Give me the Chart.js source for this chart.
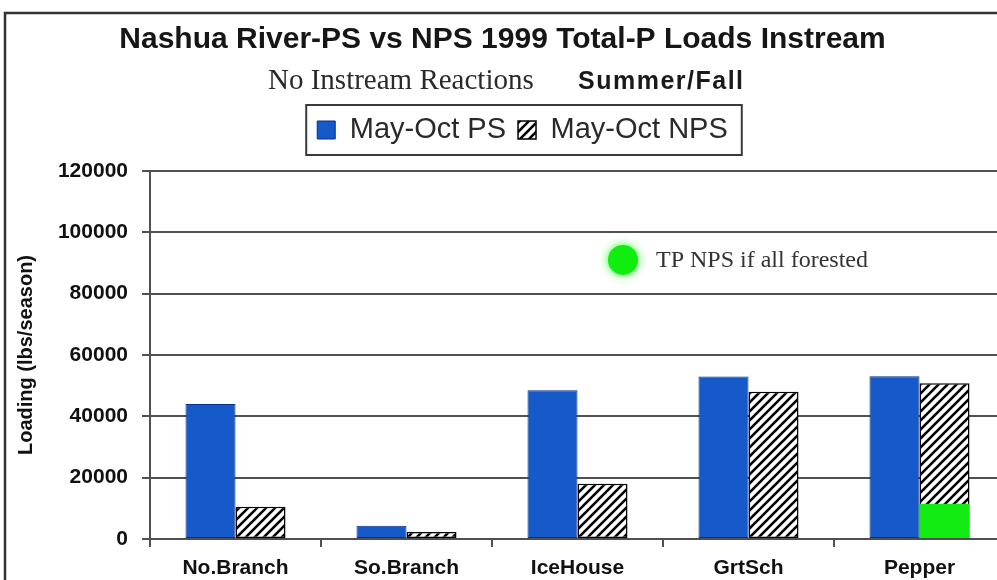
<!DOCTYPE html>
<html>
<head>
<meta charset="utf-8">
<script src="https://cdn.jsdelivr.net/npm/chart.js@4.4.1/dist/chart.umd.min.js"></script>
<style>
  html, body { margin: 0; padding: 0; background: #fff; overflow: hidden; width: 997px; height: 580px; }
  #wrap { position: relative; width: 1012px; height: 580px; }
</style>
</head>
<body>
<div id="wrap"><canvas id="c"></canvas></div>
<script>
// ---------- data ----------
const categories = ['No.Branch', 'So.Branch', 'IceHouse', 'GrtSch', 'Pepper'];
const psLoads = [44000, 4300, 48500, 53000, 53100];
const npsLoads = [10500, 2300, 18000, 48000, 50800];
const forestedNps = [null, null, null, null, 11500];
const seriesLabels = ['May-Oct PS', 'May-Oct NPS', 'TP NPS if all forested'];
const yMin = 0, yMax = 120000, yStep = 20000;
const titleText = 'Nashua River-PS vs NPS 1999 Total-P Loads Instream';
const subtitleLeft = 'No Instream Reactions';
const subtitleRight = 'Summer/Fall';
const yAxisTitle = 'Loading (lbs/season)';
const noteText = 'TP NPS if all forested';

// ---------- styling ----------
const SANS = "'Liberation Sans', Arial, Helvetica, sans-serif";
const SERIF = "'Liberation Serif', 'Times New Roman', serif";
const GRID = '#505050';
const LEGEND_GAP = 16.5;
const LEGEND_SHIFT = 20;

const canvas = document.getElementById('c');
const ctx0 = canvas.getContext('2d');

function makeHatch(ctx) {
  const s = 9;
  const t = document.createElement('canvas');
  t.width = s; t.height = s;
  const g = t.getContext('2d');
  g.fillStyle = '#ffffff';
  g.fillRect(0, 0, s, s);
  g.strokeStyle = '#000000';
  g.lineWidth = 2.6;
  g.beginPath();
  g.moveTo(-1, s + 1); g.lineTo(s + 1, -1);
  g.moveTo(-s / 2 - 1, s / 2 + 1); g.lineTo(s / 2 + 1, -s / 2 - 1);
  g.moveTo(s / 2 - 1, s * 1.5 + 1); g.lineTo(s * 1.5 + 1, s / 2 - 1);
  g.stroke();
  return ctx.createPattern(t, 'repeat');
}
const hatch = makeHatch(ctx0);

const legendTweaks = {
  id: 'legendTweaks',
  beforeInit(chart) {
    const lg = chart.legend;
    const origFit = lg.fit;
    lg.fit = function () { origFit.call(this); this.height += LEGEND_GAP; };
    const origDraw = lg.draw;
    lg.draw = function (area) {
      const c = this.ctx;
      c.save();
      c.translate(LEGEND_SHIFT, 0);
      origDraw.call(this, area);
      c.restore();
    };
  }
};

const decor = {
  id: 'decor',
  afterDraw(chart) {
    const { ctx, scales } = chart;
    ctx.save();
    // outer frame (continues past the visible edge)
    ctx.strokeStyle = '#333333';
    ctx.lineWidth = 2.5;
    ctx.strokeRect(5, 13, chart.width + 40, chart.height + 40);

    // subtitle line
    ctx.fillStyle = '#2a2a2a';
    ctx.textBaseline = 'alphabetic';
    ctx.textAlign = 'left';
    ctx.font = '29px ' + SERIF;
    ctx.fillText(subtitleLeft, 268, 89);
    ctx.font = 'bold 25px ' + SANS;
    ctx.fillStyle = '#1a1a1a';
    if ('letterSpacing' in ctx) ctx.letterSpacing = '1.5px';
    ctx.fillText(subtitleRight, 578, 89);
    if ('letterSpacing' in ctx) ctx.letterSpacing = '0px';

    // legend frame
    const hb = chart.legend.legendHitBoxes;
    if (hb && hb.length) {
      const first = hb[0], last = hb[hb.length - 1];
      const cy = first.top + first.height / 2;
      const x0 = first.left + LEGEND_SHIFT - 11;
      const x1 = last.left + last.width + LEGEND_SHIFT + 14;
      ctx.strokeStyle = '#3a3a3a';
      ctx.lineWidth = 2;
      ctx.strokeRect(x0, cy - 25, x1 - x0, 50);
    }

    // "TP NPS if all forested" note with green glow dot
    const nx = scales.x.getPixelForValue(2.266);
    const ny = scales.y.getPixelForValue(91000);
    ctx.shadowColor = '#33ff33';
    ctx.shadowBlur = 10;
    ctx.fillStyle = '#10ee10';
    ctx.beginPath();
    ctx.arc(nx, ny, 15, 0, Math.PI * 2);
    ctx.fill();
    ctx.shadowBlur = 0;
    ctx.fillStyle = '#333333';
    ctx.font = '24px ' + SERIF;
    ctx.textBaseline = 'middle';
    ctx.fillText(noteText, nx + 33, ny + 1);
    ctx.restore();
  }
};

new Chart(canvas, {
  type: 'bar',
  data: {
    labels: categories,
    datasets: [
      {
        label: seriesLabels[0], data: psLoads, stack: 'ps', order: -1,
        backgroundColor: '#1659c8', borderColor: '#0c2f85', borderWidth: 1, borderSkipped: false
      },
      {
        label: seriesLabels[1], data: npsLoads, stack: 'nps', order: 2,
        backgroundColor: hatch, borderColor: '#000000', borderWidth: 1.5, borderSkipped: false
      },
      {
        label: seriesLabels[2], data: forestedNps, stack: 'nps', order: 0,
        backgroundColor: '#12ec12', borderWidth: 0
      }
    ]
  },
  options: {
    responsive: true,
    maintainAspectRatio: false,
    animation: false,
    layout: { padding: { left: 0, right: 7, top: 0, bottom: 0 } },
    datasets: { bar: { categoryPercentage: 0.585, barPercentage: 1.0 } },
    plugins: {
      tooltip: { enabled: false },
      title: {
        display: true, text: titleText, color: '#161616',
        font: { family: SANS, size: 30, weight: 'bold', lineHeight: 1.2 },
        padding: { top: 22, bottom: 45.5 }
      },
      legend: {
        display: true, position: 'top',
        labels: {
          color: '#2a2a2a',
          font: { family: SANS, size: 29 },
          boxWidth: 18, boxHeight: 18, padding: 12,
          filter: (item) => item.datasetIndex !== 2
        }
      }
    },
    scales: {
      x: {
        stacked: true,
        grid: { display: true, drawOnChartArea: false, offset: true, color: GRID, lineWidth: 2, tickLength: 8 },
        border: { display: true, color: GRID, width: 2 },
        ticks: { color: '#111', font: { family: SANS, size: 21, weight: 'bold' }, padding: 9, maxRotation: 0 },
        afterFit(scale) { scale.height = 41; }
      },
      y: {
        stacked: false,
        min: yMin, max: yMax,
        grid: { color: GRID, lineWidth: 2, tickLength: 8 },
        border: { display: true, color: GRID, width: 2 },
        ticks: {
          stepSize: yStep, color: '#111', padding: 14,
          font: { family: SANS, size: 21, weight: 'bold' },
          callback: (v) => String(v)
        },
        title: {
          display: true, text: yAxisTitle, color: '#111',
          font: { family: SANS, size: 20, weight: 'bold', lineHeight: 1.2 },
          padding: { top: 14, bottom: 6 }
        },
        afterFit(scale) { scale.width = 150; }
      }
    }
  },
  plugins: [legendTweaks, decor]
});
</script>
</body>
</html>
